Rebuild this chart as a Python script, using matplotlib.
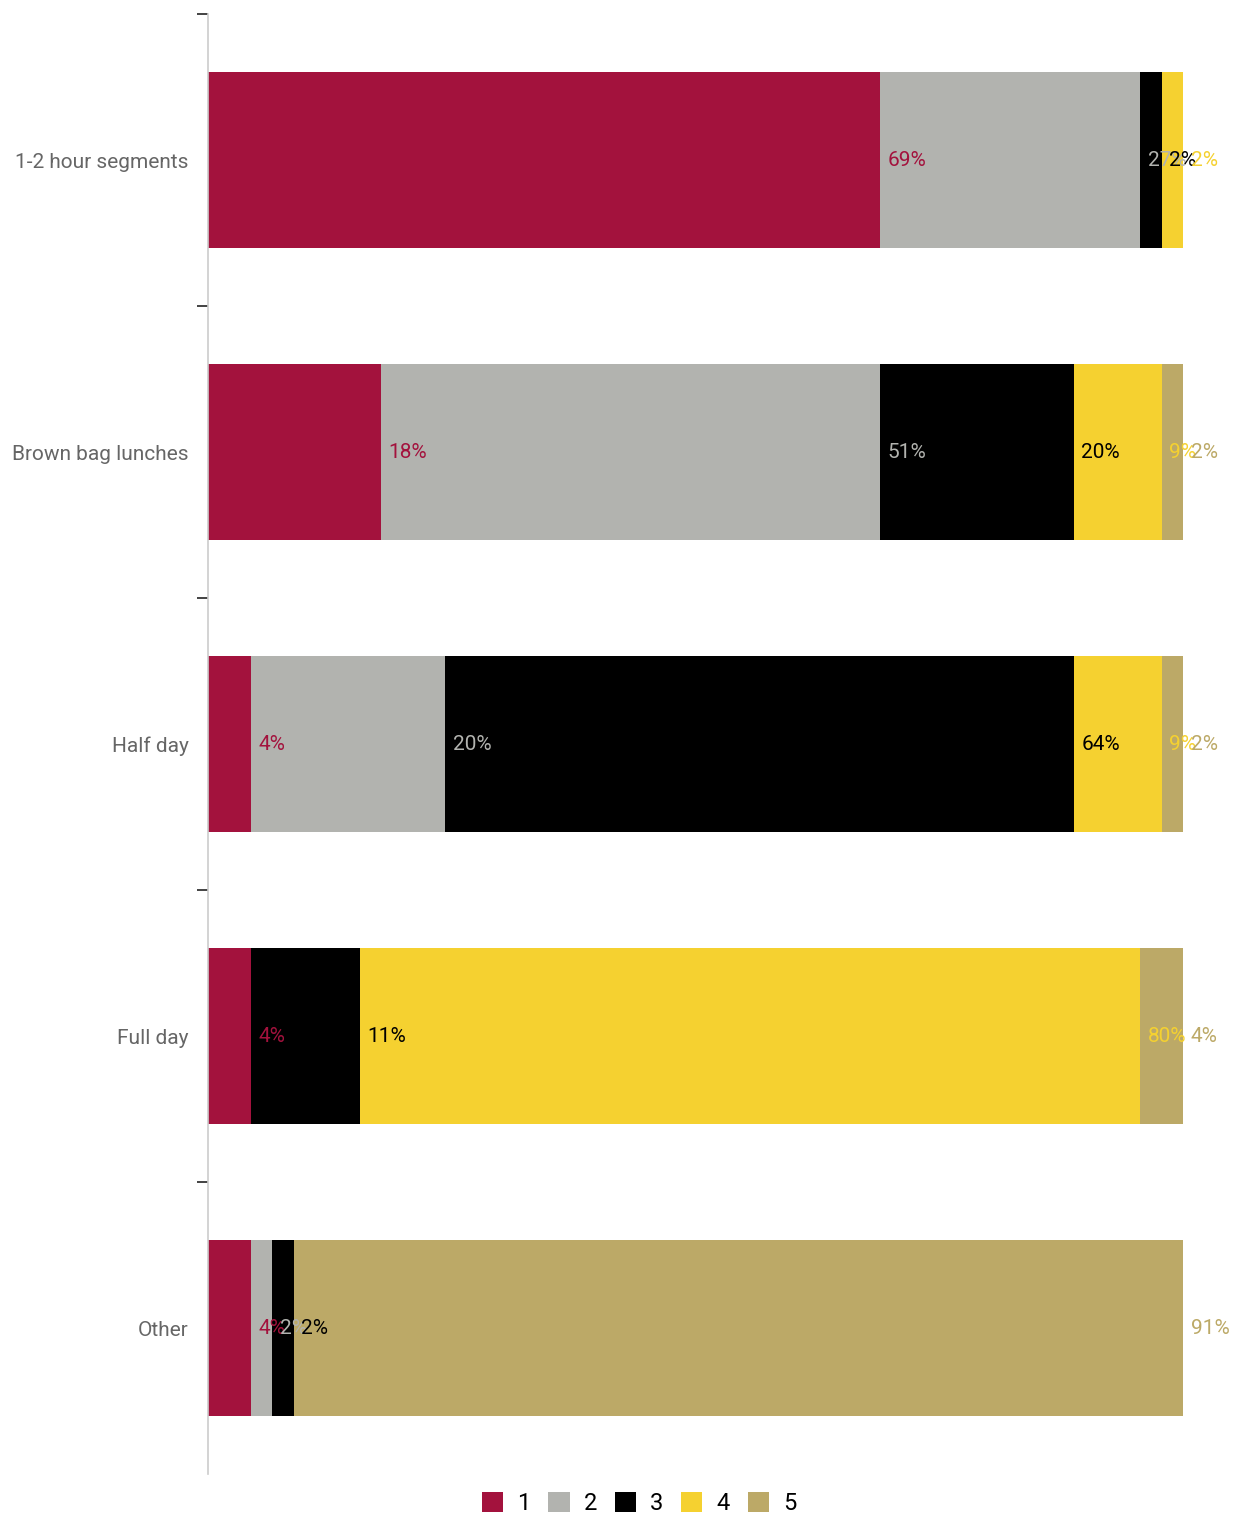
import matplotlib.pyplot as plt
from matplotlib.patches import Patch

plt.rcParams['font.family'] = ['Roboto', 'DejaVu Sans']

# categories top to bottom
categories = ['1-2 hour segments', 'Brown bag lunches', 'Half day', 'Full day', 'Other']
series = ['1', '2', '3', '4', '5']
colors = ['#A3123D', '#B2B3AF', '#000000', '#F5D130', '#BCA967']

# percent of respondents per series, one list per series (rows follow categories)
s1 = [68.9, 17.7, 4.4, 4.4, 4.4]
s2 = [26.7, 51.2, 19.9, 0.0, 2.2]
s3 = [2.2, 19.9, 64.5, 11.2, 2.2]
s4 = [2.2, 9.0, 9.0, 80.0, 0.0]
s5 = [0.0, 2.2, 2.2, 4.4, 91.2]
values = [s1, s2, s3, s4, s5]

fig = plt.figure(figsize=(12.46, 15.18), dpi=100)
ax = fig.add_axes([208 / 1246, 1 - 1474 / 1518, 975 / 1246, 1460 / 1518])

ypos = list(range(len(categories)))
left = [0.0] * len(categories)
for vals, col, name in zip(values, colors, series):
    ax.barh(ypos, vals, left=left, height=0.605, color=col, label=name)
    for i, v in enumerate(vals):
        end = left[i] + v
        if v > 0:
            ax.annotate(f"{round(v)}%", xy=(end, i), xytext=(5.5, 0),
                        textcoords='offset points', va='center', ha='left',
                        color=col, fontsize=15)
    left = [l + v for l, v in zip(left, vals)]

ax.set_xlim(0, 100)
ax.set_ylim(len(categories) - 0.5, -0.5)

# boundary ticks (major) and category labels (minor)
ax.set_yticks([y - 0.5 for y in ypos])
ax.set_yticklabels([])
ax.set_yticks(ypos, minor=True)
ax.set_yticklabels(categories, minor=True, fontsize=15, color='#666666')
ax.tick_params(axis='y', which='major', length=8, width=1.2, color='#222222')
ax.tick_params(axis='y', which='minor', length=0, pad=14)

ax.set_xticks([])
for s in ['top', 'right', 'bottom']:
    ax.spines[s].set_visible(False)
ax.spines['left'].set_color('#cccccc')
ax.spines['left'].set_linewidth(1.2)

handles = [Patch(facecolor=c, label=n) for c, n in zip(colors, series)]
fig.legend(handles=handles, loc='lower center', bbox_to_anchor=(0.513, -0.012),
           ncol=5, frameon=False, fontsize=17, handlelength=0.9, handleheight=0.9,
           handletextpad=0.6, columnspacing=0.75)

fig.savefig('out.png', dpi=100)
